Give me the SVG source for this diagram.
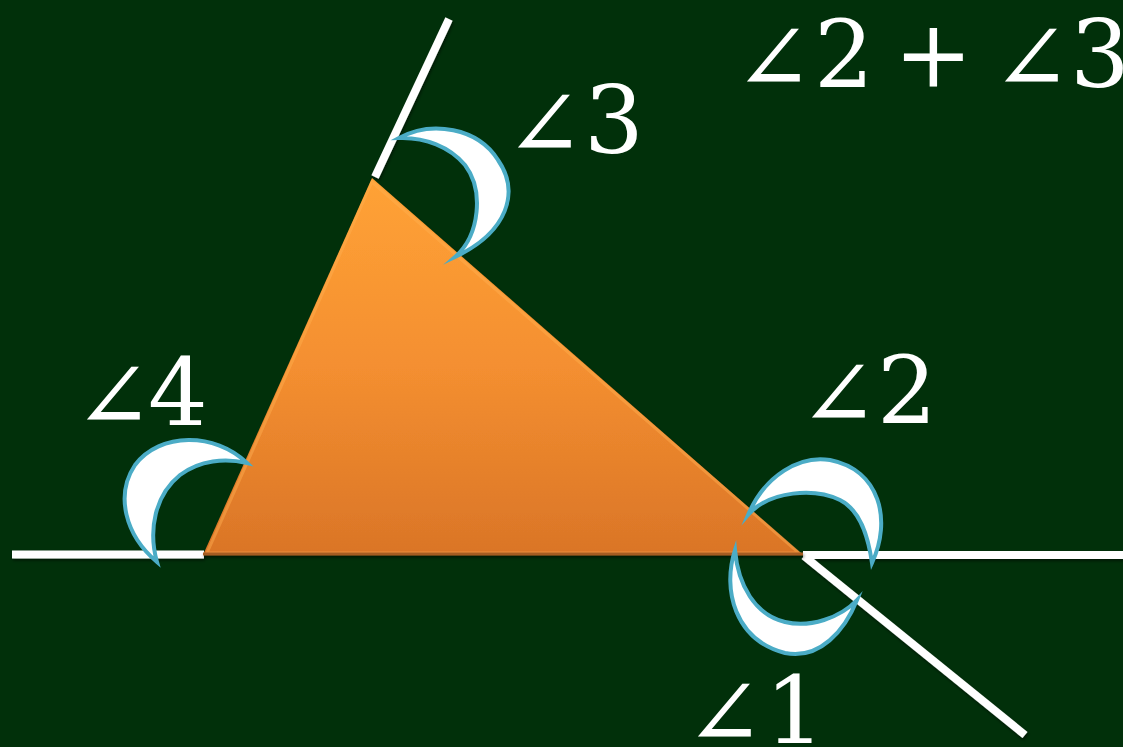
<svg xmlns="http://www.w3.org/2000/svg" width="1123" height="747" viewBox="0 0 1123 747">
  <defs>
    <linearGradient id="triFill" x1="0" y1="0" x2="0" y2="1">
      <stop offset="0" stop-color="#FFA236"/>
      <stop offset="0.5" stop-color="#F48F30"/>
      <stop offset="1" stop-color="#DA7527"/>
    </linearGradient>
    <filter id="shadow" x="-10%" y="-10%" width="120%" height="130%">
      <feDropShadow dx="1" dy="2" stdDeviation="1.5" flood-color="#000" flood-opacity="0.5"/>
    </filter>
  </defs>
  <style>
    .ray { stroke: #FFFFFF; stroke-width: 8; fill: none; stroke-linecap: butt; }
    .moon { fill: #FFFFFF; stroke: #4BACC6; stroke-width: 4; stroke-linejoin: miter; stroke-miterlimit: 12; }
    .lbl { fill: #FFFFFF; font-family: "DejaVu Serif", "DejaVu Sans", serif; font-size: 94px; }
  </style>
  <rect x="0" y="0" width="1123" height="747" fill="#01300A"/>

  <g id="lines" filter="url(#shadow)">
    <line class="ray" x1="12" y1="554.5" x2="204" y2="554.5"/>
    <line class="ray" x1="803" y1="555" x2="1123" y2="555"/>
    <line class="ray" x1="375" y1="177" x2="449" y2="19"/>
    <line class="ray" x1="804" y1="556" x2="1025" y2="735"/>
  </g>

  <g id="triangle" filter="url(#shadow)">
    <polygon points="372,178 203,555 803,555" fill="url(#triFill)"/>
    <polygon points="372,182 207,553 799,553" fill="none" stroke="#FFB050" stroke-opacity="0.45" stroke-width="3"/>
    <line x1="203" y1="554" x2="803" y2="554" stroke="#A55C22" stroke-width="3"/>
  </g>

  <g id="angle3">
    <path class="moon" d="M399,138 C432,120 478,128 498,160 C520,192 508,232 455,257 C480,235 484,190 465,165 C450,147 425,137 399,138 Z"/>
  </g>
  <g id="angle4">
    <path class="moon" d="M247,463 C215,432 160,432 135,465 C115,495 125,535 157,562 C148,530 155,495 180,475 C200,460 225,458 247,463 Z"/>
  </g>
  <g id="angle2">
    <path class="moon" d="M748,515 C765,475 800,455 830,460 C880,470 892,520 872,563 C868,535 860,510 840,500 C815,488 770,490 748,515 Z"/>
  </g>
  <g id="angle1">
    <path class="moon" d="M735,550 C722,590 735,640 785,653 C820,660 845,630 857,600 C840,618 810,628 785,622 C755,615 738,585 735,550 Z"/>
  </g>

  <g id="labels">
    <text class="lbl"><tspan x="505" y="157">∠</tspan><tspan x="584" y="153">3</tspan></text>
    <text class="lbl"><tspan x="799" y="427">∠</tspan><tspan x="877" y="423">2</tspan></text>
    <text class="lbl"><tspan x="74" y="429">∠</tspan><tspan x="148" y="425">4</tspan></text>
    <text class="lbl"><tspan x="685" y="746">∠</tspan><tspan x="765" y="743">1</tspan></text>
    <text class="lbl"><tspan x="734" y="91">∠</tspan><tspan x="814" y="87">2</tspan><tspan x="894" y="87">+</tspan><tspan x="992" y="91">∠</tspan><tspan x="1070" y="87">3</tspan></text>
  </g>
</svg>
